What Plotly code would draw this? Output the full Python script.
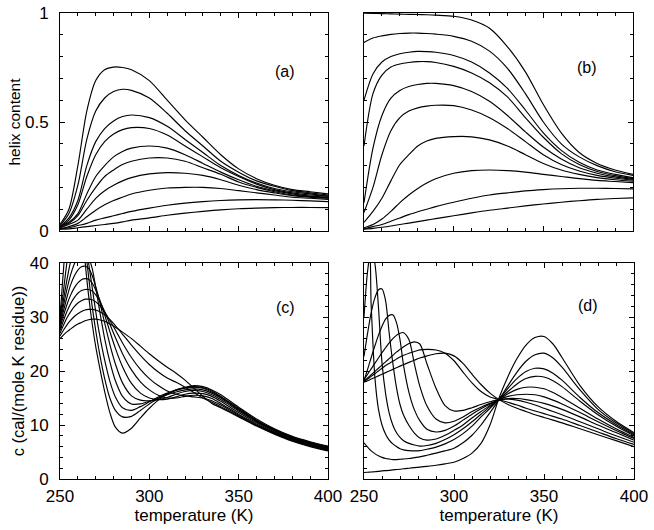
import plotly.graph_objects as go

# ---------------- data ----------------
temp_helix = [250, 255, 260, 265, 270, 275, 280, 285, 290, 300, 310, 320, 330, 340, 350, 360, 370, 380, 390, 400]

helix_a = [
    [0.03, 0.10, 0.30, 0.55, 0.69, 0.74, 0.752, 0.75, 0.74, 0.69, 0.60, 0.51, 0.43, 0.35, 0.285, 0.24, 0.21, 0.19, 0.18, 0.17],
    [0.025, 0.08, 0.21, 0.42, 0.55, 0.61, 0.64, 0.65, 0.645, 0.61, 0.54, 0.46, 0.39, 0.32, 0.27, 0.23, 0.205, 0.185, 0.175, 0.165],
    [0.02, 0.06, 0.14, 0.30, 0.41, 0.47, 0.505, 0.525, 0.532, 0.52, 0.48, 0.42, 0.36, 0.30, 0.255, 0.22, 0.195, 0.18, 0.17, 0.16],
    [0.02, 0.05, 0.12, 0.25, 0.35, 0.41, 0.445, 0.465, 0.474, 0.47, 0.44, 0.39, 0.34, 0.29, 0.25, 0.215, 0.19, 0.175, 0.165, 0.16],
    [0.02, 0.04, 0.08, 0.17, 0.25, 0.30, 0.34, 0.365, 0.38, 0.39, 0.38, 0.35, 0.31, 0.27, 0.235, 0.205, 0.185, 0.17, 0.16, 0.155],
    [0.015, 0.035, 0.07, 0.14, 0.20, 0.25, 0.28, 0.305, 0.32, 0.335, 0.335, 0.32, 0.29, 0.26, 0.225, 0.20, 0.18, 0.165, 0.158, 0.152],
    [0.015, 0.03, 0.05, 0.10, 0.15, 0.185, 0.21, 0.23, 0.245, 0.262, 0.268, 0.265, 0.255, 0.235, 0.21, 0.19, 0.175, 0.162, 0.155, 0.15],
    [0.01, 0.02, 0.035, 0.065, 0.095, 0.12, 0.14, 0.155, 0.17, 0.187, 0.197, 0.20, 0.20, 0.195, 0.185, 0.175, 0.165, 0.155, 0.15, 0.145],
    [0.01, 0.015, 0.025, 0.035, 0.05, 0.06, 0.07, 0.08, 0.09, 0.105, 0.118, 0.128, 0.135, 0.14, 0.143, 0.144, 0.143, 0.141, 0.138, 0.135],
    [0.008, 0.01, 0.015, 0.02, 0.025, 0.03, 0.035, 0.042, 0.05, 0.06, 0.072, 0.082, 0.09, 0.097, 0.102, 0.105, 0.107, 0.108, 0.108, 0.107],
]

helix_b = [
    [0.999, 0.998, 0.997, 0.996, 0.995, 0.994, 0.993, 0.992, 0.99, 0.985, 0.968, 0.93, 0.845, 0.73, 0.58, 0.45, 0.36, 0.31, 0.28, 0.26],
    [0.865, 0.885, 0.895, 0.902, 0.906, 0.908, 0.908, 0.906, 0.903, 0.893, 0.87, 0.825, 0.746, 0.63, 0.50, 0.40, 0.34, 0.30, 0.272, 0.255],
    [0.60, 0.72, 0.775, 0.80, 0.813, 0.82, 0.824, 0.823, 0.82, 0.805, 0.775, 0.725, 0.654, 0.555, 0.45, 0.37, 0.315, 0.28, 0.26, 0.245],
    [0.39, 0.63, 0.715, 0.752, 0.766, 0.773, 0.777, 0.777, 0.773, 0.755, 0.725, 0.68, 0.615, 0.52, 0.43, 0.355, 0.305, 0.273, 0.254, 0.24],
    [0.13, 0.38, 0.53, 0.61, 0.645, 0.663, 0.672, 0.677, 0.677, 0.667, 0.64, 0.595, 0.53, 0.455, 0.385, 0.33, 0.29, 0.265, 0.248, 0.237],
    [0.085, 0.20, 0.35, 0.46, 0.52, 0.55, 0.565, 0.573, 0.577, 0.575, 0.555, 0.52, 0.47, 0.41, 0.35, 0.305, 0.275, 0.255, 0.242, 0.233],
    [0.04, 0.09, 0.15, 0.23, 0.305, 0.35, 0.39, 0.413, 0.425, 0.433, 0.432, 0.418, 0.39, 0.35, 0.31, 0.28, 0.26, 0.245, 0.235, 0.228],
    [0.015, 0.03, 0.055, 0.09, 0.13, 0.165, 0.195, 0.22, 0.24, 0.265, 0.277, 0.28, 0.277, 0.27, 0.26, 0.25, 0.24, 0.232, 0.227, 0.222],
    [0.01, 0.02, 0.03, 0.045, 0.06, 0.075, 0.088, 0.10, 0.112, 0.132, 0.15, 0.165, 0.175, 0.184, 0.19, 0.194, 0.196, 0.196, 0.195, 0.193],
    [0.008, 0.012, 0.017, 0.023, 0.03, 0.036, 0.043, 0.05, 0.057, 0.07, 0.083, 0.095, 0.105, 0.115, 0.124, 0.132, 0.139, 0.145, 0.149, 0.152],
]

temp_c = [250, 252, 254, 256, 258, 260, 262, 264, 266, 268, 270, 272, 275, 278, 281, 285,
          290, 295, 300, 305, 310, 315, 320, 325, 330, 335, 340, 350, 360, 370, 380, 390, 400]

heat_c = [
    [26.0, 26.7, 27.3, 27.8, 28.3, 28.7, 29.0, 29.3, 29.5, 29.6, 29.6, 29.5, 29.2, 28.7, 28.1, 27.2, 26.0, 24.6, 23.2, 21.9, 20.7, 19.6, 18.3, 16.8, 15.3, 14.0, 13.2, 11.5, 9.8, 8.3, 7.0, 6.0, 5.2],
    [26.5, 27.6, 28.6, 29.4, 30.1, 30.6, 31.0, 31.3, 31.4, 31.4, 31.3, 31.0, 30.4, 29.5, 28.4, 26.8, 24.8, 22.9, 21.2, 19.8, 18.7, 17.9, 17.0, 16.0, 15.0, 14.2, 13.4, 11.6, 9.9, 8.4, 7.1, 6.1, 5.3],
    [27.0, 28.5, 29.9, 31.0, 31.9, 32.6, 33.0, 33.3, 33.3, 33.2, 32.8, 32.2, 30.9, 29.3, 27.6, 25.2, 22.5, 20.3, 18.6, 17.3, 16.3, 15.7, 15.4, 15.2, 15.0, 14.5, 13.7, 11.8, 10.0, 8.5, 7.2, 6.2, 5.4],
    [27.5, 29.4, 31.1, 32.5, 33.6, 34.4, 34.9, 35.1, 35.1, 34.8, 34.1, 33.1, 31.0, 28.6, 26.2, 23.2, 20.2, 18.0, 16.5, 15.5, 15.0, 15.0, 15.3, 15.5, 15.4, 14.9, 14.0, 12.0, 10.2, 8.6, 7.3, 6.3, 5.5],
    [28.0, 30.3, 32.4, 34.1, 35.4, 36.3, 36.9, 37.1, 37.0, 36.3, 35.0, 33.4, 30.4, 27.2, 24.2, 20.8, 17.7, 15.9, 15.0, 14.7, 14.8, 15.2, 15.7, 15.9, 15.8, 15.3, 14.4, 12.3, 10.4, 8.7, 7.4, 6.4, 5.6],
    [28.4, 31.2, 33.8, 36.0, 37.6, 38.7, 39.3, 39.4, 39.0, 37.7, 35.6, 33.1, 28.9, 24.8, 21.3, 17.8, 15.4, 14.6, 14.5, 14.7, 15.1, 15.7, 16.2, 16.4, 16.2, 15.6, 14.7, 12.6, 10.6, 8.9, 7.5, 6.5, 5.7],
    [28.8, 32.2, 35.3, 37.9, 39.8, 41.1, 41.8, 41.8, 41.0, 39.0, 35.5, 31.5, 26.0, 21.6, 18.2, 15.3, 13.9, 13.9, 14.4, 15.0, 15.6, 16.1, 16.5, 16.7, 16.5, 15.9, 15.0, 12.8, 10.7, 9.0, 7.6, 6.6, 5.8],
    [29.2, 33.3, 37.1, 40.4, 43.0, 44.8, 45.6, 44.0, 40.0, 35.5, 31.0, 27.0, 22.0, 18.0, 15.2, 13.2, 12.7, 13.4, 14.3, 15.2, 15.9, 16.4, 16.8, 17.0, 16.8, 16.1, 15.2, 12.9, 10.8, 9.1, 7.7, 6.7, 5.9],
    [29.6, 35.0, 40.5, 45.2, 48.9, 51.0, 49.5, 43.5, 37.5, 32.0, 27.5, 23.5, 18.6, 14.9, 12.7, 11.5, 11.6, 12.7, 13.9, 14.9, 15.8, 16.5, 16.9, 17.1, 16.9, 16.3, 15.3, 13.1, 10.9, 9.2, 7.8, 6.8, 6.0],
    [30.0, 39.0, 47.5, 54.0, 57.5, 57.5, 50.0, 40.5, 34.0, 28.8, 24.5, 21.0, 16.2, 12.2, 9.6, 8.5, 9.4, 11.3, 13.1, 14.6, 15.7, 16.5, 17.0, 17.3, 17.1, 16.5, 15.6, 13.3, 11.1, 9.3, 7.9, 6.9, 6.1],
]

temp_d = [250, 252, 254, 256, 258, 260, 262, 264, 266, 268, 270, 272, 275, 278, 281, 285,
          290, 295, 300, 305, 310, 315, 320, 325, 330, 335, 340, 345, 350, 355, 360, 370, 380, 390, 400]

heat_d = [
    [17.9, 18.2, 18.5, 18.8, 19.1, 19.4, 19.7, 20.0, 20.3, 20.6, 20.9, 21.2, 21.6, 22.0, 22.4, 22.8, 23.2, 23.3, 22.8, 21.4, 19.4, 17.5, 15.9, 14.7, 13.8, 13.1, 12.5, 11.9, 11.4, 10.9, 10.4, 9.3, 8.2, 7.1, 6.0],
    [18.0, 18.5, 19.0, 19.5, 20.0, 20.5, 21.0, 21.4, 21.8, 22.2, 22.6, 22.9, 23.3, 23.6, 23.9, 24.0, 23.9, 23.3, 21.9, 19.8, 17.8, 16.2, 15.2, 14.7, 14.2, 13.7, 13.1, 12.6, 12.1, 11.6, 11.1, 9.9, 8.7, 7.5, 6.4],
    [18.1, 18.7, 19.3, 19.9, 20.5, 21.1, 21.7, 22.3, 22.9, 23.5, 24.0, 24.5, 25.1, 25.4, 25.0, 21.3, 16.8, 13.6, 12.6, 12.7, 13.2, 13.8, 14.3, 14.7, 14.8, 14.6, 14.2, 13.7, 13.1, 12.5, 11.9, 10.6, 9.3, 8.0, 6.8],
    [18.4, 19.4, 20.4, 21.4, 22.4, 23.4, 24.3, 25.2, 26.0, 26.6, 27.0, 27.1, 25.8, 21.3, 17.2, 13.5, 11.1, 10.4, 10.7, 11.5, 12.5, 13.3, 14.0, 14.6, 14.9, 14.9, 14.7, 14.4, 14.0, 13.5, 12.9, 11.5, 10.0, 8.6, 7.2],
    [18.2, 20.3, 22.5, 24.6, 26.6, 28.3, 29.6, 30.3, 30.4, 29.0, 25.8, 21.0, 16.0, 12.8, 10.8, 9.2, 8.7, 9.0, 9.8, 10.9, 12.0, 13.0, 13.9, 14.7, 15.3, 15.6, 15.7, 15.6, 15.2, 14.6, 13.9, 12.3, 10.6, 9.0, 7.5],
    [22.7, 27.0, 30.8, 33.5, 35.0, 35.2, 33.0, 27.0, 21.5, 17.0, 13.8, 11.8, 9.9, 8.5, 7.6, 7.2, 7.4, 8.1, 9.0, 10.0, 11.3, 12.5, 13.6, 14.7, 15.8, 16.6, 17.0, 17.0, 16.7, 16.0, 15.1, 13.1, 11.1, 9.3, 7.7],
    [30.0, 38.5, 42.5, 40.0, 32.0, 21.5, 15.8, 12.2, 10.0, 8.6, 7.7, 7.1, 6.6, 6.3, 6.1, 6.2, 6.6, 7.3, 8.2, 9.3, 10.6, 12.0, 13.4, 14.7, 16.2, 17.6, 18.6, 19.0, 18.9, 18.2, 17.1, 14.4, 11.9, 9.8, 8.0],
    [46.0, 46.0, 32.0, 19.0, 13.0, 10.0, 8.3, 7.2, 6.5, 6.0, 5.6, 5.4, 5.25, 5.2, 5.25, 5.5, 5.9, 6.5, 7.3, 8.4, 9.8, 11.5, 13.1, 14.8, 16.8, 18.6, 19.9, 20.5, 20.4, 19.6, 18.3, 15.1, 12.3, 10.1, 8.2],
    [6.7, 5.9, 5.2, 4.7, 4.3, 4.0, 3.8, 3.7, 3.6, 3.6, 3.65, 3.7, 3.8, 3.95, 4.1, 4.4, 4.8, 5.2, 5.7, 6.7, 8.1, 10.0, 12.3, 14.7, 17.3, 19.8, 21.8, 23.0, 23.3, 22.4, 20.7, 16.5, 12.9, 10.4, 8.4],
    [1.2, 1.25, 1.3, 1.35, 1.4, 1.5, 1.55, 1.6, 1.7, 1.75, 1.8, 1.9, 2.0, 2.1, 2.2, 2.35, 2.55, 2.8, 3.1, 3.8, 4.8, 6.6, 10.0, 15.0, 19.0, 22.3, 24.8, 26.2, 26.4, 25.0, 22.5, 17.3, 13.4, 10.7, 8.6],
]

panel_labels = ["(a)", "(b)", "(c)", "(d)"]
x_ticks = [250, 300, 350, 400]
x_title = "temperature (K)"
y_title_helix = "helix content"
y_title_heat = "c (cal/(mole K residue))"

# ---------------- figure ----------------
W, H = 654, 530
FONT = "Liberation Sans, Arial, Helvetica, sans-serif"

fig = go.Figure()

panels = [
    ("x", "y", temp_helix, helix_a),
    ("x2", "y2", temp_helix, helix_b),
    ("x3", "y3", temp_c, heat_c),
    ("x4", "y4", temp_d, heat_d),
]
for xa, ya, tx, curves in panels:
    for ys in curves:
        fig.add_trace(go.Scatter(
            x=tx, y=ys, xaxis=xa, yaxis=ya, mode="lines",
            line=dict(color="black", width=1.15, shape="spline", smoothing=0.8),
            showlegend=False, hoverinfo="skip"))

# pixel boxes of the four plot areas
boxes = {
    1: (60, 328, 13, 231),
    2: (364, 633, 13, 231),
    3: (60, 328, 263, 479),
    4: (364, 634, 263, 479),
}

def xdom(b):
    return [b[0] / W, b[1] / W]

def ydom(b):
    return [1 - b[3] / H, 1 - b[2] / H]

tickfont = dict(family=FONT, size=17, color="black")
common_axis = dict(
    showline=True, linecolor="black", linewidth=1, mirror="ticks",
    ticks="inside", ticklen=5, tickwidth=1, tickcolor="black",
    showgrid=False, zeroline=False, tickfont=tickfont, automargin=False,
)

layout = dict(
    width=W, height=H, margin=dict(l=0, r=0, t=0, b=0, autoexpand=False),
    paper_bgcolor="white", plot_bgcolor="white",
    font=dict(family=FONT, size=16, color="black"),
)

for i in range(1, 5):
    b = boxes[i]
    sx = "" if i == 1 else str(i)
    bottom = i in (3, 4)
    left = i in (1, 3)
    xa = dict(common_axis, domain=xdom(b), range=[250, 400], tickvals=x_ticks,
              minor=dict(dtick=10, tick0=250, ticks="inside", ticklen=3, tickcolor="black"),
              anchor="y" + sx, showticklabels=bottom, ticklabelstandoff=2)
    if bottom:
        xa["title"] = dict(text=x_title, font=dict(family=FONT, size=17), standoff=2)
    if i in (1, 2):
        ya = dict(common_axis, domain=ydom(b), range=[0, 1], tickvals=[0, 0.5, 1],
                  minor=dict(dtick=0.1, tick0=0, ticks="inside", ticklen=3, tickcolor="black"),
                  anchor="x" + sx, showticklabels=left, ticklabelstandoff=7)
        if left:
            ya["title"] = dict(text=y_title_helix, font=dict(family=FONT, size=15.5), standoff=0)
    else:
        ya = dict(common_axis, domain=ydom(b), range=[0, 40], tickvals=[0, 10, 20, 30, 40],
                  minor=dict(dtick=2, tick0=0, ticks="inside", ticklen=3, tickcolor="black"),
                  anchor="x" + sx, showticklabels=left, ticklabelstandoff=7)
        if left:
            ya["title"] = dict(text=y_title_heat, font=dict(family=FONT, size=16.5), standoff=0)
    layout["xaxis" + sx] = xa
    layout["yaxis" + sx] = ya

fig.update_layout(**layout)

label_pos = [("x", "y", 376, 0.73), ("x2", "y2", 374.5, 0.752),
             ("x3", "y3", 376, 31.7), ("x4", "y4", 374.5, 32.2)]
for (xr, yr, lx, ly), txt in zip(label_pos, panel_labels):
    fig.add_annotation(x=lx, y=ly, xref=xr, yref=yr, text=txt, showarrow=False,
                       xanchor="center", yanchor="middle",
                       font=dict(family=FONT, size=16, color="black"))

# remove the browser's default 8px page margin so the figure sits at the window origin
fig.write_html("out.html", config={"displayModeBar": False},
               post_script="document.body.style.margin='0px';")
